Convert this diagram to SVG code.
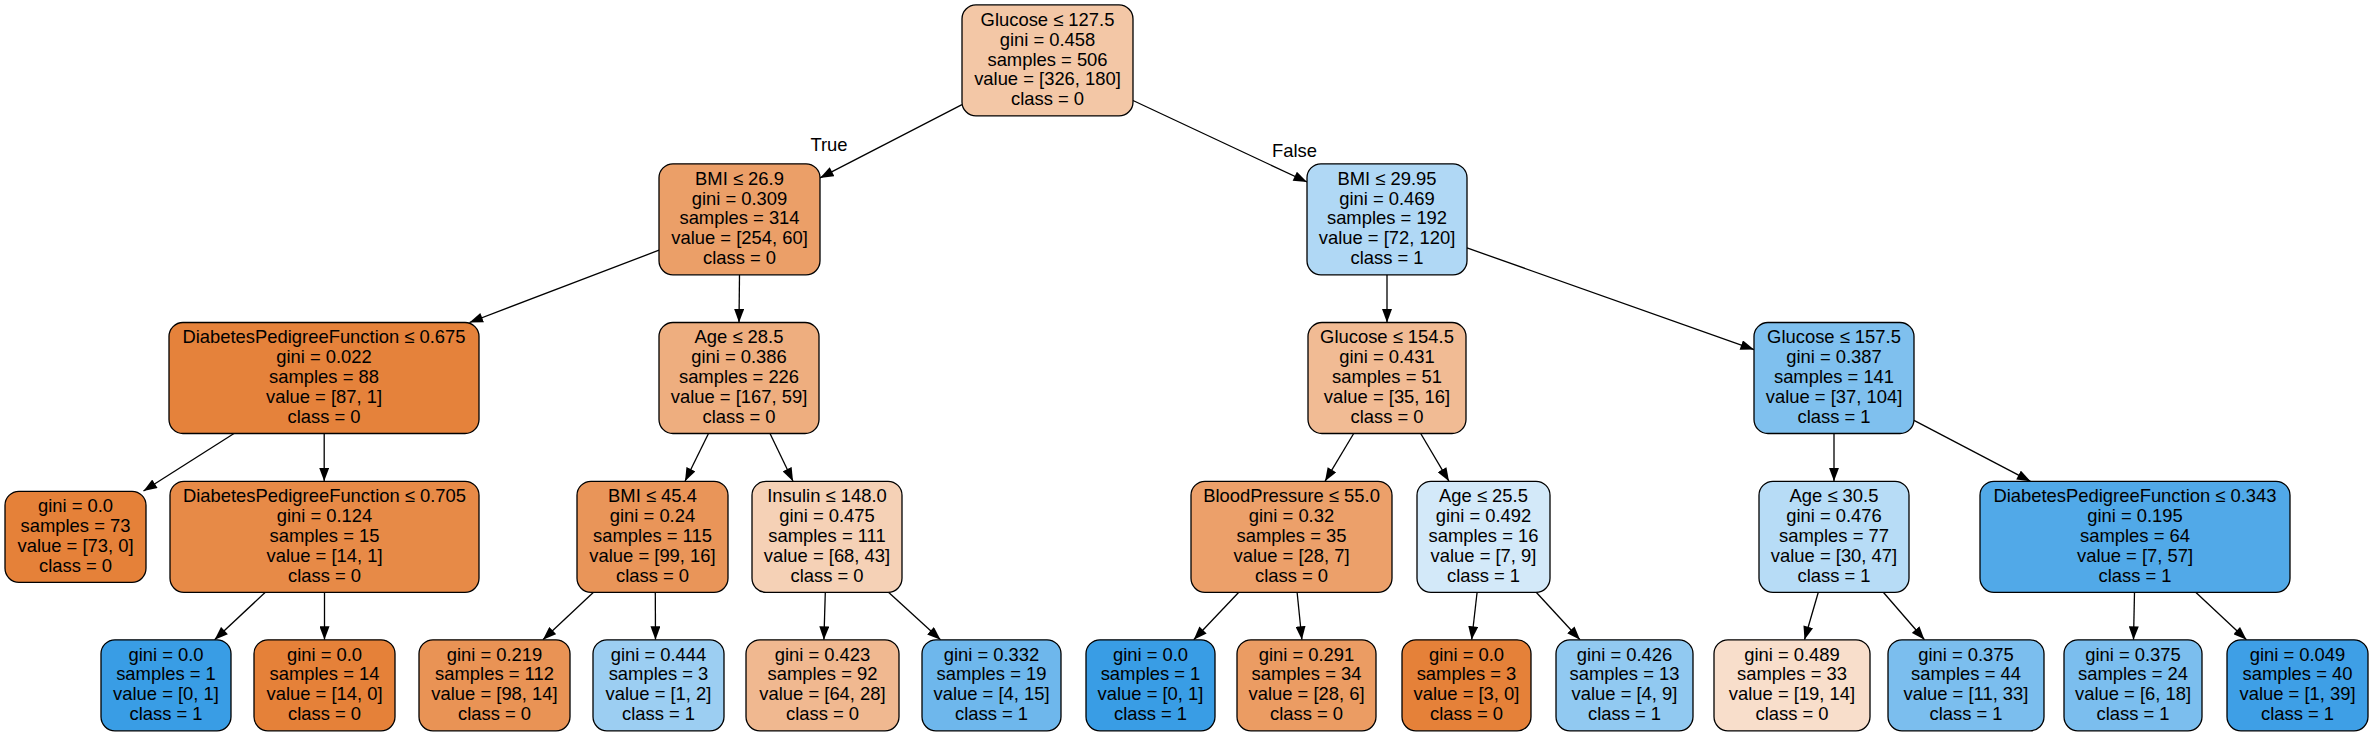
<svg xmlns="http://www.w3.org/2000/svg" width="2373" height="736" viewBox="0 0 2373 736">
<style>
.n rect{stroke:#000;stroke-width:1.3}
text{font-family:"Liberation Sans",Arial,Helvetica,sans-serif;font-size:18.4px;fill:#000;text-anchor:middle}
.e line{stroke:#000;stroke-width:1.3;marker-end:url(#arr)}
</style>
<defs>
<marker id="arr" markerUnits="userSpaceOnUse" markerWidth="14" markerHeight="10" viewBox="0 0 13.5 10" refX="13.5" refY="5" orient="auto"><path d="M0,0 L13.5,5 L0,10 z" fill="#000"/></marker>
</defs>
<rect width="2373" height="736" fill="#fff"/>
<g id="connectors" class="e">
<line x1="962" y1="104.6" x2="820" y2="177.9"/>
<line x1="1133" y1="100.5" x2="1307" y2="182"/>
<line x1="659" y1="250.2" x2="469.5" y2="322.5"/>
<line x1="739.5" y1="274.8" x2="739" y2="322.5"/>
<line x1="234" y1="433.5" x2="143.5" y2="491"/>
<line x1="324.2" y1="433.5" x2="324.2" y2="481.3"/>
<line x1="265.3" y1="592.3" x2="214.6" y2="639.8"/>
<line x1="324.5" y1="592.3" x2="324.5" y2="639.8"/>
<line x1="708.5" y1="433.5" x2="685" y2="481.3"/>
<line x1="770" y1="433.5" x2="793" y2="481.3"/>
<line x1="593.5" y1="592.3" x2="542.9" y2="639.8"/>
<line x1="655.3" y1="592.3" x2="655.5" y2="639.8"/>
<line x1="825.3" y1="592.3" x2="823.9" y2="639.8"/>
<line x1="888.5" y1="592.3" x2="940.5" y2="639.8"/>
<line x1="1387" y1="274.8" x2="1387" y2="322.5"/>
<line x1="1467" y1="247.9" x2="1754" y2="349.6"/>
<line x1="1353.7" y1="433.5" x2="1325" y2="481.3"/>
<line x1="1420.7" y1="433.5" x2="1449" y2="481.3"/>
<line x1="1238.8" y1="592.3" x2="1193.7" y2="639.8"/>
<line x1="1297.1" y1="592.3" x2="1301.9" y2="639.8"/>
<line x1="1477.1" y1="592.3" x2="1471.7" y2="639.8"/>
<line x1="1536.2" y1="592.3" x2="1580" y2="639.8"/>
<line x1="1834" y1="433.5" x2="1834" y2="481.3"/>
<line x1="1914" y1="420.3" x2="2030.5" y2="481.3"/>
<line x1="1818.3" y1="592.3" x2="1804.5" y2="639.8"/>
<line x1="1883.3" y1="592.3" x2="1924.5" y2="639.8"/>
<line x1="2134.5" y1="592.3" x2="2133.5" y2="639.8"/>
<line x1="2195.7" y1="592.3" x2="2246.5" y2="639.8"/>
<text x="829" y="151">True</text>
<text x="1294.5" y="157">False</text>
</g>
<g id="node0" class="n"><rect x="962" y="4.9" width="171" height="111" rx="14" fill="#f3c7a6"/><text><tspan x="1047.5" y="25.8">Glucose ≤ 127.5</tspan><tspan x="1047.5" y="45.65">gini = 0.458</tspan><tspan x="1047.5" y="65.5">samples = 506</tspan><tspan x="1047.5" y="85.35">value = [326, 180]</tspan><tspan x="1047.5" y="105.2">class = 0</tspan></text></g>
<g id="node1" class="n"><rect x="659" y="163.8" width="161" height="111" rx="14" fill="#eb9f68"/><text><tspan x="739.5" y="184.7">BMI ≤ 26.9</tspan><tspan x="739.5" y="204.55">gini = 0.309</tspan><tspan x="739.5" y="224.4">samples = 314</tspan><tspan x="739.5" y="244.25">value = [254, 60]</tspan><tspan x="739.5" y="264.1">class = 0</tspan></text></g>
<g id="node14" class="n"><rect x="1307" y="163.8" width="160" height="111" rx="14" fill="#b0d8f5"/><text><tspan x="1387" y="184.7">BMI ≤ 29.95</tspan><tspan x="1387" y="204.55">gini = 0.469</tspan><tspan x="1387" y="224.4">samples = 192</tspan><tspan x="1387" y="244.25">value = [72, 120]</tspan><tspan x="1387" y="264.1">class = 1</tspan></text></g>
<g id="node2" class="n"><rect x="169" y="322.5" width="310" height="111" rx="14" fill="#e5823b"/><text><tspan x="324" y="343.4">DiabetesPedigreeFunction ≤ 0.675</tspan><tspan x="324" y="363.25">gini = 0.022</tspan><tspan x="324" y="383.1">samples = 88</tspan><tspan x="324" y="402.95">value = [87, 1]</tspan><tspan x="324" y="422.8">class = 0</tspan></text></g>
<g id="node7" class="n"><rect x="659" y="322.5" width="160" height="111" rx="14" fill="#eeae7f"/><text><tspan x="739" y="343.4">Age ≤ 28.5</tspan><tspan x="739" y="363.25">gini = 0.386</tspan><tspan x="739" y="383.1">samples = 226</tspan><tspan x="739" y="402.95">value = [167, 59]</tspan><tspan x="739" y="422.8">class = 0</tspan></text></g>
<g id="node15" class="n"><rect x="1308" y="322.5" width="158" height="111" rx="14" fill="#f1bb94"/><text><tspan x="1387" y="343.4">Glucose ≤ 154.5</tspan><tspan x="1387" y="363.25">gini = 0.431</tspan><tspan x="1387" y="383.1">samples = 51</tspan><tspan x="1387" y="402.95">value = [35, 16]</tspan><tspan x="1387" y="422.8">class = 0</tspan></text></g>
<g id="node22" class="n"><rect x="1754" y="322.5" width="160" height="111" rx="14" fill="#7fc0ee"/><text><tspan x="1834" y="343.4">Glucose ≤ 157.5</tspan><tspan x="1834" y="363.25">gini = 0.387</tspan><tspan x="1834" y="383.1">samples = 141</tspan><tspan x="1834" y="402.95">value = [37, 104]</tspan><tspan x="1834" y="422.8">class = 1</tspan></text></g>
<g id="node3" class="n"><rect x="5" y="491.3" width="141" height="91" rx="14" fill="#e58139"/><text><tspan x="75.5" y="512.1">gini = 0.0</tspan><tspan x="75.5" y="531.95">samples = 73</tspan><tspan x="75.5" y="551.8">value = [73, 0]</tspan><tspan x="75.5" y="571.65">class = 0</tspan></text></g>
<g id="node4" class="n"><rect x="170" y="481.3" width="309" height="111" rx="14" fill="#e78a47"/><text><tspan x="324.5" y="502.2">DiabetesPedigreeFunction ≤ 0.705</tspan><tspan x="324.5" y="522.05">gini = 0.124</tspan><tspan x="324.5" y="541.9">samples = 15</tspan><tspan x="324.5" y="561.75">value = [14, 1]</tspan><tspan x="324.5" y="581.6">class = 0</tspan></text></g>
<g id="node8" class="n"><rect x="577" y="481.3" width="151" height="111" rx="14" fill="#e99559"/><text><tspan x="652.5" y="502.2">BMI ≤ 45.4</tspan><tspan x="652.5" y="522.05">gini = 0.24</tspan><tspan x="652.5" y="541.9">samples = 115</tspan><tspan x="652.5" y="561.75">value = [99, 16]</tspan><tspan x="652.5" y="581.6">class = 0</tspan></text></g>
<g id="node11" class="n"><rect x="752" y="481.3" width="150" height="111" rx="14" fill="#f5d1b6"/><text><tspan x="827" y="502.2">Insulin ≤ 148.0</tspan><tspan x="827" y="522.05">gini = 0.475</tspan><tspan x="827" y="541.9">samples = 111</tspan><tspan x="827" y="561.75">value = [68, 43]</tspan><tspan x="827" y="581.6">class = 0</tspan></text></g>
<g id="node16" class="n"><rect x="1191" y="481.3" width="201" height="111" rx="14" fill="#eca06a"/><text><tspan x="1291.5" y="502.2">BloodPressure ≤ 55.0</tspan><tspan x="1291.5" y="522.05">gini = 0.32</tspan><tspan x="1291.5" y="541.9">samples = 35</tspan><tspan x="1291.5" y="561.75">value = [28, 7]</tspan><tspan x="1291.5" y="581.6">class = 0</tspan></text></g>
<g id="node19" class="n"><rect x="1417" y="481.3" width="133" height="111" rx="14" fill="#d3e9f9"/><text><tspan x="1483.5" y="502.2">Age ≤ 25.5</tspan><tspan x="1483.5" y="522.05">gini = 0.492</tspan><tspan x="1483.5" y="541.9">samples = 16</tspan><tspan x="1483.5" y="561.75">value = [7, 9]</tspan><tspan x="1483.5" y="581.6">class = 1</tspan></text></g>
<g id="node23" class="n"><rect x="1759" y="481.3" width="150" height="111" rx="14" fill="#b7dcf6"/><text><tspan x="1834" y="502.2">Age ≤ 30.5</tspan><tspan x="1834" y="522.05">gini = 0.476</tspan><tspan x="1834" y="541.9">samples = 77</tspan><tspan x="1834" y="561.75">value = [30, 47]</tspan><tspan x="1834" y="581.6">class = 1</tspan></text></g>
<g id="node26" class="n"><rect x="1980" y="481.3" width="310" height="111" rx="14" fill="#51a9e8"/><text><tspan x="2135" y="502.2">DiabetesPedigreeFunction ≤ 0.343</tspan><tspan x="2135" y="522.05">gini = 0.195</tspan><tspan x="2135" y="541.9">samples = 64</tspan><tspan x="2135" y="561.75">value = [7, 57]</tspan><tspan x="2135" y="581.6">class = 1</tspan></text></g>
<g id="node5" class="n"><rect x="101" y="639.8" width="130" height="91" rx="14" fill="#399de5"/><text><tspan x="166" y="660.6">gini = 0.0</tspan><tspan x="166" y="680.45">samples = 1</tspan><tspan x="166" y="700.3">value = [0, 1]</tspan><tspan x="166" y="720.15">class = 1</tspan></text></g>
<g id="node6" class="n"><rect x="254" y="639.8" width="141" height="91" rx="14" fill="#e58139"/><text><tspan x="324.5" y="660.6">gini = 0.0</tspan><tspan x="324.5" y="680.45">samples = 14</tspan><tspan x="324.5" y="700.3">value = [14, 0]</tspan><tspan x="324.5" y="720.15">class = 0</tspan></text></g>
<g id="node9" class="n"><rect x="419" y="639.8" width="151" height="91" rx="14" fill="#e99355"/><text><tspan x="494.5" y="660.6">gini = 0.219</tspan><tspan x="494.5" y="680.45">samples = 112</tspan><tspan x="494.5" y="700.3">value = [98, 14]</tspan><tspan x="494.5" y="720.15">class = 0</tspan></text></g>
<g id="node10" class="n"><rect x="593" y="639.8" width="131" height="91" rx="14" fill="#9ccef2"/><text><tspan x="658.5" y="660.6">gini = 0.444</tspan><tspan x="658.5" y="680.45">samples = 3</tspan><tspan x="658.5" y="700.3">value = [1, 2]</tspan><tspan x="658.5" y="720.15">class = 1</tspan></text></g>
<g id="node12" class="n"><rect x="746" y="639.8" width="153" height="91" rx="14" fill="#f0b890"/><text><tspan x="822.5" y="660.6">gini = 0.423</tspan><tspan x="822.5" y="680.45">samples = 92</tspan><tspan x="822.5" y="700.3">value = [64, 28]</tspan><tspan x="822.5" y="720.15">class = 0</tspan></text></g>
<g id="node13" class="n"><rect x="922" y="639.8" width="139" height="91" rx="14" fill="#6eb7ec"/><text><tspan x="991.5" y="660.6">gini = 0.332</tspan><tspan x="991.5" y="680.45">samples = 19</tspan><tspan x="991.5" y="700.3">value = [4, 15]</tspan><tspan x="991.5" y="720.15">class = 1</tspan></text></g>
<g id="node17" class="n"><rect x="1086" y="639.8" width="129" height="91" rx="14" fill="#399de5"/><text><tspan x="1150.5" y="660.6">gini = 0.0</tspan><tspan x="1150.5" y="680.45">samples = 1</tspan><tspan x="1150.5" y="700.3">value = [0, 1]</tspan><tspan x="1150.5" y="720.15">class = 1</tspan></text></g>
<g id="node18" class="n"><rect x="1237" y="639.8" width="139" height="91" rx="14" fill="#eb9c63"/><text><tspan x="1306.5" y="660.6">gini = 0.291</tspan><tspan x="1306.5" y="680.45">samples = 34</tspan><tspan x="1306.5" y="700.3">value = [28, 6]</tspan><tspan x="1306.5" y="720.15">class = 0</tspan></text></g>
<g id="node20" class="n"><rect x="1402" y="639.8" width="129" height="91" rx="14" fill="#e58139"/><text><tspan x="1466.5" y="660.6">gini = 0.0</tspan><tspan x="1466.5" y="680.45">samples = 3</tspan><tspan x="1466.5" y="700.3">value = [3, 0]</tspan><tspan x="1466.5" y="720.15">class = 0</tspan></text></g>
<g id="node21" class="n"><rect x="1556" y="639.8" width="137" height="91" rx="14" fill="#91c9f1"/><text><tspan x="1624.5" y="660.6">gini = 0.426</tspan><tspan x="1624.5" y="680.45">samples = 13</tspan><tspan x="1624.5" y="700.3">value = [4, 9]</tspan><tspan x="1624.5" y="720.15">class = 1</tspan></text></g>
<g id="node24" class="n"><rect x="1714" y="639.8" width="156" height="91" rx="14" fill="#f8decb"/><text><tspan x="1792" y="660.6">gini = 0.489</tspan><tspan x="1792" y="680.45">samples = 33</tspan><tspan x="1792" y="700.3">value = [19, 14]</tspan><tspan x="1792" y="720.15">class = 0</tspan></text></g>
<g id="node25" class="n"><rect x="1888" y="639.8" width="156" height="91" rx="14" fill="#7bbeee"/><text><tspan x="1966" y="660.6">gini = 0.375</tspan><tspan x="1966" y="680.45">samples = 44</tspan><tspan x="1966" y="700.3">value = [11, 33]</tspan><tspan x="1966" y="720.15">class = 1</tspan></text></g>
<g id="node27" class="n"><rect x="2064" y="639.8" width="138" height="91" rx="14" fill="#7bbeee"/><text><tspan x="2133" y="660.6">gini = 0.375</tspan><tspan x="2133" y="680.45">samples = 24</tspan><tspan x="2133" y="700.3">value = [6, 18]</tspan><tspan x="2133" y="720.15">class = 1</tspan></text></g>
<g id="node28" class="n"><rect x="2227" y="639.8" width="141" height="91" rx="14" fill="#3e9fe6"/><text><tspan x="2297.5" y="660.6">gini = 0.049</tspan><tspan x="2297.5" y="680.45">samples = 40</tspan><tspan x="2297.5" y="700.3">value = [1, 39]</tspan><tspan x="2297.5" y="720.15">class = 1</tspan></text></g>
</svg>
